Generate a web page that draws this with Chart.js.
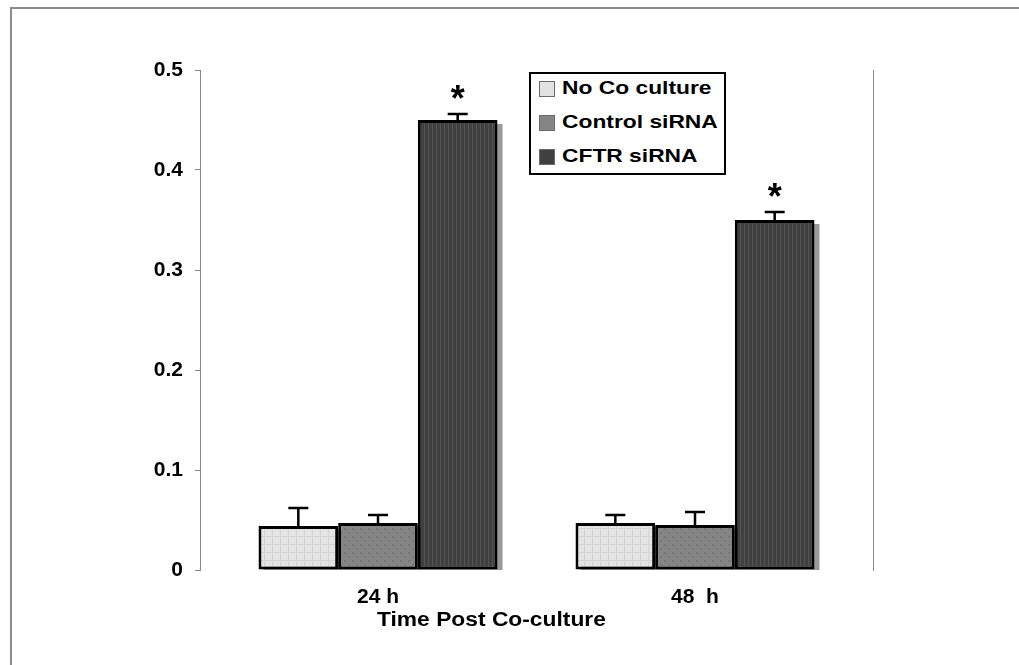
<!DOCTYPE html>
<html>
<head>
<meta charset="utf-8">
<title>Time Post Co-culture</title>
<script src="https://cdn.jsdelivr.net/npm/chart.js@4/dist/chart.umd.min.js"></script>
<style>
  html, body { margin: 0; padding: 0; background: #fff; }
  #wrap { position: relative; width: 1019px; height: 665px; overflow: hidden; }
  #frame { position: absolute; left: 10px; top: 7px; right: -10px; bottom: -10px;
           border-left: 2px solid #8c8c8c; border-top: 2px solid #8c8c8c; }
  #chart { position: absolute; left: 0; top: 0; }
  #legend { position: absolute; left: 529px; top: 72px; width: 193px; height: 99px;
            border: 2px solid #000; background: #fff;
            font: bold 19px "Liberation Sans", Arial, sans-serif; color: #000; }
  #legend .row { position: absolute; left: 8px; height: 20px; width: 180px; }
  #legend .sw { position: absolute; left: 0; top: 2px; width: 14px; height: 14px; border: 1px solid #6a6a6a; }
  #legend .lbl { position: absolute; left: 23px; top: -2px; white-space: nowrap;
                 transform: scaleX(1.2); transform-origin: left center; }
  #xtitle { position: absolute; left: 377px; top: 608px; white-space: nowrap;
            font: bold 20px "Liberation Sans", Arial, sans-serif; color: #000;
            transform: scaleX(1.14); transform-origin: left center; }
</style>
</head>
<body>
<div id="wrap">
  <div id="frame"></div>
  <canvas id="chart" width="1019" height="665"></canvas>
  <div id="legend"></div>
  <div id="xtitle">Time Post Co-culture</div>
</div>
<script>
// ── Data ──
const groups = ["24 h", "48  h"];
const seriesNames = ["No Co culture", "Control siRNA", "CFTR siRNA"];
const noCoculture = [0.044, 0.047];
const controlSiRNA = [0.047, 0.045];
const cftrSiRNA = [0.450, 0.350];
const noCocultureErr = [0.018, 0.008];
const controlSiRNAErr = [0.008, 0.013];
const cftrSiRNAErr = [0.006, 0.008];
const noCocultureSig = [false, false];
const controlSiRNASig = [false, false];
const cftrSiRNASig = [true, true];
const yTicks = [0, 0.1, 0.2, 0.3, 0.4, 0.5];

const FONT = "'Liberation Sans', Arial, sans-serif";
const canvas = document.getElementById("chart");
const ctx0 = canvas.getContext("2d");

// ── Fill textures (the scanned bars are slightly patterned) ──
function makePattern(base, line, kind) {
  const t = document.createElement("canvas");
  t.width = 8; t.height = 8;
  const g = t.getContext("2d");
  g.fillStyle = base; g.fillRect(0, 0, 8, 8);
  g.fillStyle = line;
  if (kind === "grid") { g.fillRect(0, 0, 1, 8); g.fillRect(0, 0, 8, 1); }
  else if (kind === "dots") { g.fillRect(0, 0, 2, 2); g.fillRect(4, 4, 2, 2); }
  else { g.fillRect(0, 0, 1, 8); g.fillRect(4, 0, 1, 8); }
  return ctx0.createPattern(t, "repeat");
}

const series = [
  { name: seriesNames[0], values: noCoculture, err: noCocultureErr, sig: noCocultureSig,
    swatch: "#e2e2e2", fill: makePattern("#e4e4e4", "#d4d4d4", "grid") },
  { name: seriesNames[1], values: controlSiRNA, err: controlSiRNAErr, sig: controlSiRNASig,
    swatch: "#858585", fill: makePattern("#858585", "#777777", "dots") },
  { name: seriesNames[2], values: cftrSiRNA, err: cftrSiRNAErr, sig: cftrSiRNASig,
    swatch: "#404040", fill: makePattern("#404040", "#545454", "stripes") },
];

// ── Legend ──
const legendEl = document.getElementById("legend");
legendEl.innerHTML = series.map((s, i) => `
  <div class="row" style="top:${5 + i * 34}px">
    <span class="sw" style="background:${s.swatch}"></span>
    <span class="lbl">${s.name}</span>
  </div>`).join("");

// ── Plugins ──
const shadowPlugin = {
  id: "barShadow",
  beforeDatasetsDraw(chart) {
    const { ctx, chartArea: a } = chart;
    ctx.save();
    ctx.beginPath();
    ctx.rect(a.left, a.top, a.right - a.left, a.bottom - a.top);
    ctx.clip();
    ctx.fillStyle = "#9a9a9a";
    chart.data.datasets.forEach((ds, i) => {
      chart.getDatasetMeta(i).data.forEach(bar => {
        ctx.fillRect(bar.x - bar.width / 2 + 5, bar.y + 4, bar.width, bar.base - bar.y);
      });
    });
    ctx.restore();
  },
};

const errorPlugin = {
  id: "errorBars",
  afterDatasetsDraw(chart) {
    const { ctx, scales: { y } } = chart;
    ctx.save();
    ctx.strokeStyle = "#000";
    ctx.lineWidth = 2.5;
    ctx.fillStyle = "#000";
    ctx.font = `bold 36px ${FONT}`;
    ctx.textAlign = "center";
    ctx.textBaseline = "alphabetic";
    series.forEach((s, i) => {
      chart.getDatasetMeta(i).data.forEach((bar, j) => {
        const top = y.getPixelForValue(s.values[j] + s.err[j]);
        ctx.beginPath();
        ctx.moveTo(bar.x, bar.y);
        ctx.lineTo(bar.x, top);
        ctx.moveTo(bar.x - 10, top);
        ctx.lineTo(bar.x + 10, top);
        ctx.stroke();
        if (s.sig[j]) ctx.fillText("*", bar.x, top - 3);
      });
    });
    ctx.restore();
  },
};

// ── Chart ──
const tickFont = { family: FONT, size: 21, weight: "bold" };

new Chart(canvas, {
  type: "bar",
  data: {
    datasets: series.map(s => ({
      label: s.name,
      data: s.values.map((v, i) => ({ x: i, y: v })),
      backgroundColor: s.fill,
      borderColor: "#000",
      borderWidth: 3,
      borderSkipped: false,
      categoryPercentage: 0.754,
      barPercentage: 1,
    })),
  },
  options: {
    responsive: false,
    animation: false,
    devicePixelRatio: 1,
    layout: { padding: { left: 0, right: 146, top: 70, bottom: 0 } },
    plugins: { legend: { display: false }, tooltip: { enabled: false } },
    scales: {
      x: {
        type: "linear",
        offset: false,
        min: -0.5615,
        max: 1.5615,
        afterBuildTicks: s => { s.ticks = groups.map((_, i) => ({ value: i })); },
        grid: { display: false, drawTicks: false, offset: false },
        border: { display: false },
        ticks: { callback: v => groups[v] ?? "", font: tickFont, color: "#000", padding: 15, maxRotation: 0, autoSkip: false },
        afterFit: s => { s.height = 95; },
      },
      y: {
        min: 0,
        max: 0.5,
        afterBuildTicks: s => { s.ticks = yTicks.map(v => ({ value: v })); },
        grid: { drawOnChartArea: false, tickLength: 5, color: "#888" },
        border: { color: "#888", width: 1 },
        ticks: { callback: v => (v === 0 ? "0" : v.toFixed(1)), font: tickFont, color: "#000", padding: 12 },
        afterFit: s => { s.width = 200; },
      },
      y2: {
        position: "right",
        min: 0,
        max: 0.5,
        grid: { display: false },
        border: { color: "#888", width: 1 },
        ticks: { display: false },
        afterFit: s => { s.width = 0; },
      },
    },
  },
  plugins: [shadowPlugin, errorPlugin],
});
</script>
</body>
</html>
